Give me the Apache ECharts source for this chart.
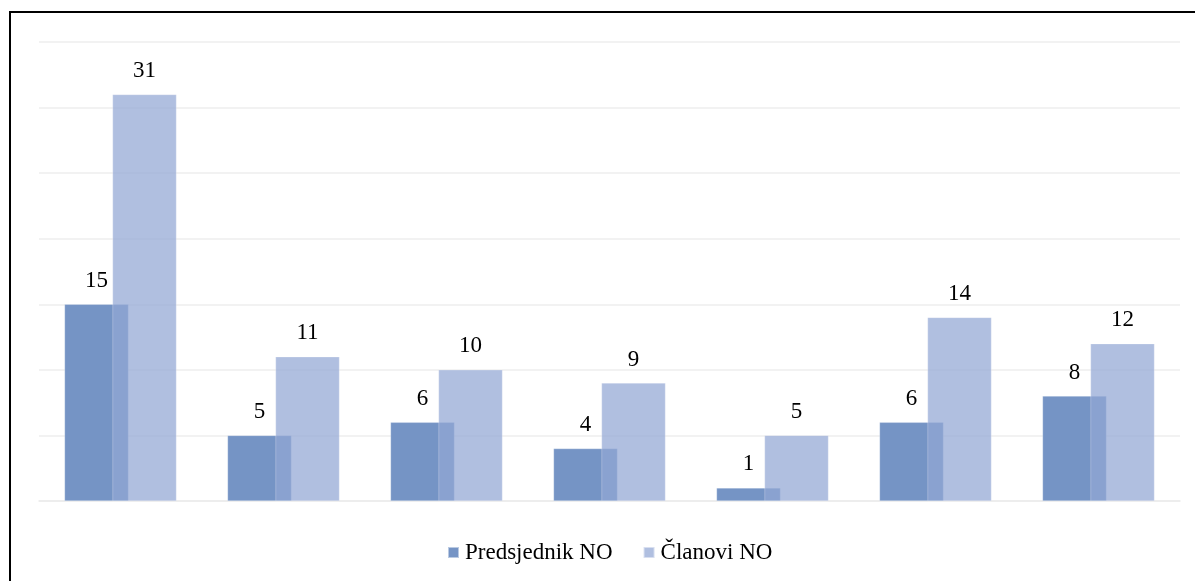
<!DOCTYPE html>
<html>
<head>
<meta charset="utf-8">
<script src="https://cdn.jsdelivr.net/npm/echarts@6/dist/echarts.min.js"></script>
<style>
html,body{margin:0;padding:0;background:#fff;}
#chart{width:1195px;height:581px;}
</style>
</head>
<body>
<div id="chart"></div>
<script>
const categories = ['1', '2', '3', '4', '5', '6', '7'];
const predsjednik = [15, 5, 6, 4, 1, 6, 8];
const clanovi = [31, 11, 10, 9, 5, 14, 12];
const seriesNames = ['Predsjednik NO', 'Članovi NO'];

const font = '"Times New Roman", "Liberation Serif", serif';
const chart = echarts.init(document.getElementById('chart'));
chart.setOption({
  animation: false,
  backgroundColor: '#fff',
  graphic: [{
    type: 'rect',
    shape: { x: 10, y: 12, width: 1300, height: 700 },
    style: { fill: 'none', stroke: '#000', lineWidth: 2 },
    silent: true
  }],
  grid: { left: 39, right: 15, top: 42, bottom: 80 },
  legend: {
    top: 536,
    left: 442,
    itemWidth: 11,
    itemHeight: 11,
    itemGap: 30,
    icon: 'rect',
    textStyle: { fontFamily: font, fontSize: 23, color: '#000', padding: [0, 0, 0, 1] },
    data: seriesNames
  },
  xAxis: {
    type: 'category',
    data: categories,
    axisLine: { show: true, lineStyle: { color: '#ececec', width: 1.5 } },
    axisTick: { show: false },
    axisLabel: { show: false }
  },
  yAxis: {
    type: 'value',
    min: 0,
    max: 35,
    interval: 5,
    axisLine: { show: false },
    axisTick: { show: false },
    axisLabel: { show: false },
    splitLine: { lineStyle: { color: '#eeeeee', width: 1.5 } }
  },
  series: [
    {
      name: seriesNames[0],
      type: 'bar',
      data: predsjednik,
      barWidth: 64,
      barGap: '-25%',
      itemStyle: { color: '#7594c5', borderColor: 'rgba(255,255,255,0.5)', borderWidth: 0.5 },
      label: { show: true, position: 'top', distance: 12, fontFamily: font, fontSize: 23, color: '#000' }
    },
    {
      name: seriesNames[1],
      type: 'bar',
      data: clanovi,
      barWidth: 64,
      barGap: '-25%',
      itemStyle: { color: 'rgba(147,167,213,0.73)', borderColor: 'rgba(255,255,255,0.5)', borderWidth: 0.5 },
      label: { show: true, position: 'top', distance: 12, fontFamily: font, fontSize: 23, color: '#000' }
    }
  ]
});
</script>
</body>
</html>
